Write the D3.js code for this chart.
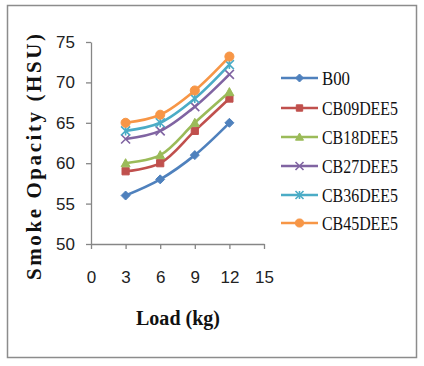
<!DOCTYPE html>
<html><head><meta charset="utf-8">
<script src="https://cdn.jsdelivr.net/npm/d3@7"></script>
<style>body{margin:0;background:#fff}</style>
</head><body>
<svg id="c" width="424" height="366"></svg>
<script>
const loads = [3, 6, 9, 12];
const seriesNames = ["B00", "CB09DEE5", "CB18DEE5", "CB27DEE5", "CB36DEE5", "CB45DEE5"];
const b00 = [56, 58, 61, 65];
const cb09 = [59, 60, 64, 68];
const cb18 = [60, 61, 65, 68.8];
const cb27 = [63, 64, 67, 71];
const cb36 = [64, 65, 68, 72.2];
const cb45 = [65, 66, 69, 73.2];
const xTicks = [0, 3, 6, 9, 12, 15];
const yTicks = [50, 55, 60, 65, 70, 75];
const colors = ["#4F81BD", "#C0504D", "#9BBB59", "#8064A2", "#4BACC6", "#F79646"];
const markers = ["diamond", "square", "triangle", "x", "asterisk", "circle"];
const allValues = [b00, cb09, cb18, cb27, cb36, cb45];

const serif = "'Liberation Serif', 'Times New Roman', serif";
const sans = "'Liberation Sans', Arial, sans-serif";

const svg = d3.select("#c");
svg.append("rect").attr("x", 7.5).attr("y", 5.5).attr("width", 409).attr("height", 352)
  .attr("fill", "#fff").attr("stroke", "#8c8c8c").attr("stroke-width", 1.5);

const x = d3.scaleLinear().domain([0, 15]).range([91, 264]);
const y = d3.scaleLinear().domain([50, 75]).range([244, 42]);

const axisColor = "#868686";
const gx = svg.append("g").attr("transform", "translate(0,244)")
  .call(d3.axisBottom(x).tickValues(xTicks).tickSize(5).tickSizeOuter(0).tickPadding(22));
const gy = svg.append("g").attr("transform", "translate(91,0)")
  .call(d3.axisLeft(y).tickValues(yTicks).tickSize(5).tickSizeOuter(0).tickPadding(11));
[gx, gy].forEach(g => {
  g.select(".domain").attr("stroke", axisColor).attr("stroke-width", 1.3);
  g.selectAll(".tick line").attr("stroke", axisColor).attr("stroke-width", 1.3);
  g.selectAll(".tick text").attr("fill", "#222").style("font-family", sans).style("font-size", "17px");
});

function markerPath(type, s) {
  switch (type) {
    case "diamond": return `M0,${-s}L${s},0L0,${s}L${-s},0Z`;
    case "square": return `M${-s*0.8},${-s*0.8}h${s*1.6}v${s*1.6}h${-s*1.6}Z`;
    case "triangle": return `M0,${-s}L${s},${s*0.8}L${-s},${s*0.8}Z`;
    case "circle": return d3.symbol(d3.symbolCircle, s*s*3.2)();
    case "x": return `M${-s},${-s}L${s},${s}M${-s},${s}L${s},${-s}`;
    case "asterisk": return `M${-s},${-s}L${s},${s}M${-s},${s}L${s},${-s}M0,${-s}L0,${s}`;
  }
}
function drawMarker(g, type, color, s) {
  const filled = !(type === "x" || type === "asterisk");
  g.append("path").attr("d", markerPath(type, s))
    .attr("fill", filled ? color : "none")
    .attr("stroke", color).attr("stroke-width", filled ? 1 : 1.6);
}

const line = d3.line().x((d, i) => x(loads[i])).y(d => y(d)).curve(d3.curveCatmullRom.alpha(0.5));
const plot = svg.append("g");
allValues.forEach((vals, k) => {
  plot.append("path").attr("d", line(vals)).attr("fill", "none")
    .attr("stroke", colors[k]).attr("stroke-width", 2.6);
  vals.forEach((v, i) => {
    const g = plot.append("g").attr("transform", `translate(${x(loads[i])},${y(v)})`);
    drawMarker(g, markers[k], colors[k], 4.5);
  });
});

// legend
const legendY = [78, 108, 137, 166, 195, 223];
seriesNames.forEach((name, k) => {
  const g = svg.append("g").attr("transform", `translate(0,${legendY[k]})`);
  g.append("line").attr("x1", 281).attr("x2", 318).attr("stroke", colors[k]).attr("stroke-width", 2.6);
  const m = g.append("g").attr("transform", "translate(299.5,0)");
  drawMarker(m, markers[k], colors[k], 4);
  g.append("text").attr("x", 322).attr("y", 0).attr("dy", "0.35em")
    .style("font-family", serif).style("font-size", "19px")
    .attr("textLength", name.length > 3 ? 76 : 28).attr("lengthAdjust", "spacingAndGlyphs")
    .attr("fill", "#111").text(name);
});

// axis titles
svg.append("text").attr("transform", "translate(34,157) rotate(-90)")
  .attr("text-anchor", "middle").attr("dy", "0.35em")
  .style("font-family", serif).style("font-weight", "bold").style("font-size", "21px")
  .attr("textLength", 246).attr("lengthAdjust", "spacing")
  .attr("fill", "#111").text("Smoke Opacity (HSU)");
svg.append("text").attr("x", 178).attr("y", 318).attr("dy", "0.35em")
  .attr("text-anchor", "middle")
  .style("font-family", serif).style("font-weight", "bold").style("font-size", "20px")
  .attr("textLength", 84).attr("lengthAdjust", "spacingAndGlyphs")
  .attr("fill", "#111").text("Load  (kg)");
</script>
</body></html>
